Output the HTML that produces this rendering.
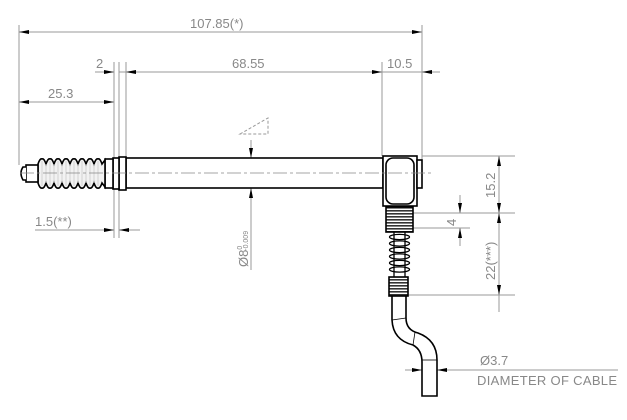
<!DOCTYPE html>
<html><head><meta charset="utf-8"><style>
html,body{margin:0;padding:0;background:#fff;}
svg{display:block;}
text{font-family:"Liberation Sans",sans-serif;fill:#888;font-size:13px;}
</style></head><body>
<svg width="627" height="420" viewBox="0 0 627 420" xmlns="http://www.w3.org/2000/svg">
<defs>
<marker id="a" viewBox="0 0 10 4" refX="10" refY="2" markerWidth="10" markerHeight="4" orient="auto-start-reverse" markerUnits="userSpaceOnUse"><path d="M0,0 L10,2 L0,4 Z" fill="#000"/></marker>
<pattern id="th" width="4" height="3" patternUnits="userSpaceOnUse"><rect width="4" height="3" fill="#fff"/><rect width="4" height="1.6" fill="#333"/></pattern>
</defs>
<g stroke="#999" stroke-width="1" fill="none">
<line x1="19" y1="25" x2="19" y2="165"/>
<line x1="114" y1="62" x2="114" y2="238"/>
<line x1="119" y1="62" x2="119" y2="238"/>
<line x1="126" y1="62" x2="126" y2="158"/>
<line x1="382" y1="62" x2="382" y2="156"/>
<line x1="422" y1="25" x2="422" y2="160"/>
<line x1="19" y1="32" x2="422" y2="32" marker-start="url(#a)" marker-end="url(#a)"/>
<line x1="126" y1="72" x2="382" y2="72" marker-start="url(#a)" marker-end="url(#a)"/>
<line x1="95" y1="72" x2="114" y2="72" marker-end="url(#a)"/>
<line x1="119" y1="72" x2="126" y2="72"/>
<line x1="382" y1="72" x2="440" y2="72"/>
<line x1="440" y1="72" x2="422" y2="72" marker-end="url(#a)"/>
<line x1="19" y1="102" x2="114" y2="102" marker-start="url(#a)" marker-end="url(#a)"/>
<line x1="35" y1="230" x2="114" y2="230" marker-end="url(#a)"/>
<line x1="140" y1="230" x2="119" y2="230" marker-end="url(#a)"/>
<line x1="251" y1="140" x2="251" y2="158" marker-end="url(#a)"/>
<line x1="251" y1="270" x2="251" y2="188" marker-end="url(#a)"/>
<path d="M240,134 L268,118 L268,134 Z" stroke-dasharray="3,2"/>
<line x1="422" y1="156" x2="515" y2="156"/>
<line x1="413" y1="213" x2="515" y2="213"/>
<line x1="413" y1="228" x2="470" y2="228"/>
<line x1="408" y1="295" x2="515" y2="295"/>
<line x1="499" y1="156" x2="499" y2="213" marker-start="url(#a)" marker-end="url(#a)"/>
<line x1="499" y1="213" x2="499" y2="295" marker-start="url(#a)" marker-end="url(#a)"/>
<line x1="499" y1="295" x2="499" y2="312"/>
<line x1="460" y1="195" x2="460" y2="213" marker-end="url(#a)"/>
<line x1="460" y1="246" x2="460" y2="228" marker-end="url(#a)"/>
<line x1="405" y1="370" x2="618" y2="370"/>
<line x1="410" y1="370" x2="422" y2="370" marker-end="url(#a)"/>
<line x1="450" y1="370" x2="437" y2="370" marker-end="url(#a)"/>
</g>
<g stroke="#000" stroke-width="1.6" fill="#fff">
<rect x="126" y="158" width="257" height="30" fill="none"/>
<rect x="119" y="157" width="7" height="33"/>
<rect x="113" y="158" width="6" height="31"/>
<rect x="105" y="159" width="8" height="29"/>
<path fill="#f2f2f2" d="M38,164 q2,-6 4,-5 q2,-1 4,5 q2,-6 4,-5 q2,-1 4,5 q2,-6 4,-5 q2,-1 4,5 q2,-6 4,-5 q2,-1 4,5 q2,-6 4,-5 q2,-1 4,5 q2,-6 4,-5 q2,-1 4,5 q2,-6 4,-5 q2,-1 4,5 q2,-6 4,-5 q2,-1 4,5 L105,160 L105,187 L102,183 q-2,6 -4,5 q-2,1 -4,-5 q-2,6 -4,5 q-2,1 -4,-5 q-2,6 -4,5 q-2,1 -4,-5 q-2,6 -4,5 q-2,1 -4,-5 q-2,6 -4,5 q-2,1 -4,-5 q-2,6 -4,5 q-2,1 -4,-5 q-2,6 -4,5 q-2,1 -4,-5 q-2,6 -4,5 q-2,1 -4,-5 Z"/>
<path stroke="#bbb" stroke-width="0.6" fill="none" d="M42,161V186M46,164V183M50,161V186M54,164V183M58,161V186M62,164V183M66,161V186M70,164V183M74,161V186M78,164V183M82,161V186M86,164V183M90,161V186M94,164V183M98,161V186"/>
<rect x="26" y="165" width="12" height="17"/>
<path d="M26,167 L23,167 Q19,173 23,180 L26,180" />
<rect x="383" y="156" width="34" height="50"/>
<rect x="386" y="158" width="28" height="46" rx="7"/>
<rect x="417" y="160" width="5" height="28"/>
<rect x="386" y="207" width="27" height="25" fill="url(#th)"/>
<path d="M392,296 L392,320 Q393,340 413,345 Q422,350 422,362 L422,396 L437,396 L437,360 Q437,340 418,333 Q406,330 406,318 L406,296" fill="#fff"/>
<line x1="392" y1="320" x2="406" y2="318" stroke-width="0.8"/>
<line x1="413" y1="345" x2="415" y2="332" stroke-width="0.8"/>
<line x1="422" y1="360" x2="437" y2="360" stroke-width="0.8"/>
<g fill="none" stroke-width="1.3">
<line x1="394" y1="232" x2="394" y2="277"/><line x1="405" y1="232" x2="405" y2="277"/>
<ellipse cx="399.5" cy="237" rx="10" ry="2.6"/>
<ellipse cx="399.5" cy="243.5" rx="10" ry="2.6"/>
<ellipse cx="399.5" cy="250" rx="10" ry="2.6"/>
<ellipse cx="399.5" cy="256.5" rx="10" ry="2.6"/>
<ellipse cx="399.5" cy="263" rx="10" ry="2.6"/>
<ellipse cx="399.5" cy="269.5" rx="10" ry="2.6"/>
</g>
<rect x="389" y="277" width="19" height="19" fill="url(#th)"/>
</g>
<line x1="20" y1="173" x2="432" y2="173" stroke="#888" stroke-width="0.8" stroke-dasharray="14,3,3,3"/>
<text x="190" y="28">107.85(*)</text>
<text x="96" y="68">2</text>
<text x="232" y="68">68.55</text>
<text x="387" y="68">10.5</text>
<text x="48" y="98">25.3</text>
<text x="35" y="226">1.5(**)</text>
<text x="480" y="365">Ø3.7</text>
<text x="477" y="385" textLength="140" lengthAdjust="spacing">DIAMETER OF CABLE</text>
<text transform="translate(495,198) rotate(-90)">15.2</text>
<text transform="translate(456,226) rotate(-90)" font-size="11">4</text>
<text transform="translate(495,280) rotate(-90)">22(***)</text>
<text transform="translate(248,267) rotate(-90)">Ø8<tspan font-size="7" dy="-6">0</tspan><tspan font-size="7" dx="-5" dy="6">-0.009</tspan></text>
</svg>
</body></html>
